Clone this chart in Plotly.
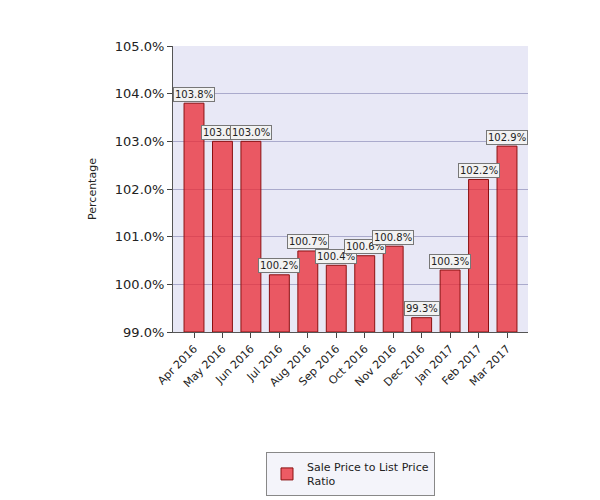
import plotly.graph_objects as go

months = ["Apr 2016","May 2016","Jun 2016","Jul 2016","Aug 2016","Sep 2016","Oct 2016","Nov 2016","Dec 2016","Jan 2017","Feb 2017","Mar 2017"]
ratio = [103.8,103.0,103.0,100.2,100.7,100.4,100.6,100.8,99.3,100.3,102.2,102.9]
tickvals = [99,100,101,102,103,104,105]
ticktext = ["99.0%","100.0%","101.0%","102.0%","103.0%","104.0%","105.0%"]

fig = go.Figure(go.Bar(
    x=months, y=[v-99 for v in ratio], base=99,
    name="Sale Price to List Price<br>Ratio",
    marker=dict(color="rgba(235,40,50,0.75)", line=dict(color="#8a1010", width=1)),
    width=0.7))
for m, v in zip(months, ratio):
    fig.add_annotation(x=m, y=v, text=f"{v:.1f}%", showarrow=False, yshift=9,
                       font=dict(size=10, color="#222"), bgcolor="#f2f2f2",
                       bordercolor="#777", borderwidth=1, borderpad=1)
fig.update_layout(
    width=600, height=500, paper_bgcolor="white", plot_bgcolor="#e8e8f6",
    margin=dict(l=165, r=80, t=38, b=125),
    font=dict(family="DejaVu Sans", size=11, color="#222"),
    showlegend=True,
    legend=dict(orientation="h", x=0.5, xanchor="center", y=-0.42, yanchor="top",
                bordercolor="#888", borderwidth=1, bgcolor="#f4f4fa", font=dict(size=11)),
    xaxis=dict(tickangle=-45, showgrid=False, linecolor="#555", ticks="outside", tickfont=dict(size=11)),
    yaxis=dict(range=[99,105], tickvals=tickvals, ticktext=ticktext, showgrid=True,
               gridcolor="#aaaacc", linecolor="#555", ticks="outside", tickfont=dict(size=13),
               title=dict(text="Percentage", font=dict(size=11))),
)
fig.write_html("out.html")
